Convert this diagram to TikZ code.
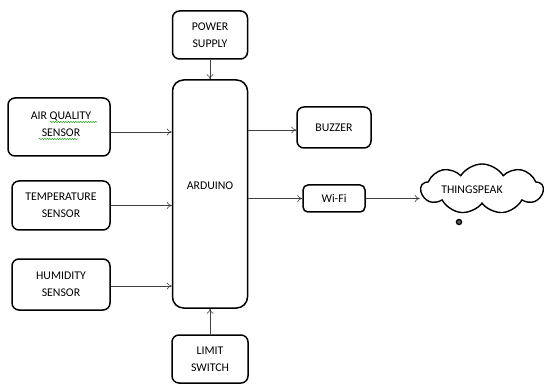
\documentclass[tikz,border=0pt]{standalone}
\usepackage{fontspec}
\setmainfont{Carlito}
\usetikzlibrary{shapes.symbols,arrows.meta,decorations.pathmorphing}
\begin{document}
\begin{tikzpicture}[x=1pt,y=-1pt,
  blk/.style={draw=black,line width=1.5pt,rounded corners=7pt,inner sep=0pt,align=center,
    font=\fontsize{11.8}{17}\selectfont},
  conn/.style={draw=black!75,line width=0.6pt,-{To[length=5pt,width=7pt]}},
  lbl/.style={font=\fontsize{11.8}{17}\selectfont,inner sep=0pt},
  squig/.style={draw=green!60!black,line width=0.5pt,decorate,decoration={snake,amplitude=0.6pt,segment length=2.5pt}}]
\useasboundingbox (0,0) rectangle (544,385);
\node[blk,minimum width=75,minimum height=48] (power) at (210,35) {POWER\\SUPPLY};
\node[blk,minimum width=75,minimum height=228,rounded corners=11pt] (ard) at (210,194) {};
\node[lbl] (ardtxt) at (210,186) {ARDUINO};
\node[blk,minimum width=102,minimum height=58] (air) at (59,127) {};
\node[lbl,align=center] (airtxt) at (61,124.5) {AIR QUALITY\\SENSOR};
\node[blk,minimum width=98,minimum height=49] (temp) at (61,205.5) {TEMPERATURE\\SENSOR};
\node[blk,minimum width=98,minimum height=51] (hum) at (61,284.5) {HUMIDITY\\SENSOR};
\node[blk,minimum width=76,minimum height=48] (limit) at (210,359) {LIMIT\\SWITCH};
\node[blk,minimum width=74,minimum height=41] (buzzer) at (334,127.5) {BUZZER};
\node[blk,minimum width=62,minimum height=27,rounded corners=5pt] (wifi) at (334,198.5) {Wi-Fi};
\node[cloud,draw=black,line width=1.4pt,cloud puffs=9,cloud puff arc=115,aspect=2.7,
  minimum width=122,minimum height=50,inner sep=0pt] (cloud) at (482,189) {};
\node[lbl] (cloudtxt) at (472,190) {THINGSPEAK};
\node[draw=black,fill=black!60,line width=1.4pt,circle,minimum size=5pt,inner sep=0pt] (bubble) at (459,222) {};
\draw[squig] (50,122) -- (97,122);
\draw[squig] (39,139) -- (78,139);
\coordinate (airo) at ([yshift=-5pt]air.east);
\coordinate (humo) at ([yshift=-1.5pt]hum.east);
\coordinate (buzi) at ([yshift=-2.5pt]buzzer.west);
\draw[conn] (power.south) -- (ard.north);
\draw[conn] (limit.north) -- (ard.south);
\draw[conn] (airo) -- (ard.west |- airo);
\draw[conn] (temp.east) -- (ard.west |- temp.east);
\draw[conn] (humo) -- (ard.west |- humo);
\draw[conn] (ard.east |- buzi) -- (buzi);
\draw[conn] (ard.east |- wifi.west) -- (wifi.west);
\draw[conn] (wifi.east) -- (cloud.west |- wifi.east);
\end{tikzpicture}
\end{document}
